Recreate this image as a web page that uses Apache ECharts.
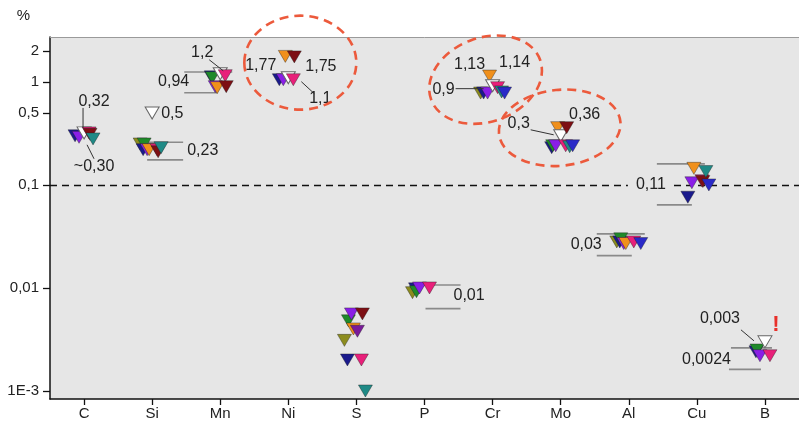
<!DOCTYPE html>
<html><head><meta charset="utf-8">
<script src="https://cdn.jsdelivr.net/npm/echarts@6/dist/echarts.min.js"></script>
<style>html,body{margin:0;padding:0;background:#fff}#c{width:799px;height:424px}</style>
</head><body><div id="c"></div>
<script>
// ---------- DATA ----------
const categories = ['C','Si','Mn','Ni','S','P','Cr','Mo','Al','Cu','B'];
const yTickValues = [0.001, 0.01, 0.1, 0.5, 1, 2];
const yTickLabels = ['1E-3', '0,01', '0,1', '0,5', '1', '2'];

const green   = [null, 0.25, 1.1,  null, 0.0048, 0.0092, null, 0.24,  0.03,  null,  0.0025];
const purple  = [0.29, 0.22, 0.9,  1.05, 0.0056, 0.01,   0.78, 0.24,  0.027, 0.105, 0.0022];
const navy    = [0.30, 0.22, 1.12, 1.05, 0.002,  0.0098, 0.78, 0.23,  0.028, 0.076, 0.0024];
const magenta = [0.32, 0.22, 1.15, 1.05, 0.002,  0.01,   0.88, 0.24,  0.028, 0.11,  0.0022];
const teal    = [0.28, 0.23, null, null, 0.001,  null,   0.8,  0.235, null,  0.135, null];
const orange  = [null, 0.22, 0.88, 1.77, 0.004,  null,   1.14, 0.36,  0.027, 0.145, null];
const darkred = [0.31, 0.21, 0.9,  1.75, 0.0056, null,   null, 0.36,  null,  0.108, null];
const olive   = [null, 0.25, null, null, 0.0031, 0.009,  0.78, null,  0.028, null,  null];
const violet  = [null, null, null, null, 0.0038, null,   null, null,  null,  null,  null];
const blue    = [null, null, null, null, null,   null,   0.78, 0.24,  0.027, 0.1,   null];
const white   = [0.32, 0.5,  1.2,  1.1,  null,   null,   0.92, 0.3,   null,  null,  0.003];

const rangeHigh = [null, 0.26,  1.25,  null, null, 0.0107, null, null, 0.0335, 0.16,  0.00262];
const rangeLow  = [null, 0.175, 0.785, null, null, 0.0063, null, null, 0.0206, 0.064, 0.00162];

const thresholdValue = 0.1;

const annotTexts  = ['0,32','~0,30','0,5','0,23','1,2','0,94','1,77','1,75','1,1','1,13','1,14','0,9','0,3','0,36','0,01','0,03','0,11','0,003','0,0024','!'];
const annotCats   = ['C','C','Si','Si','Mn','Mn','Ni','Ni','Ni','Cr','Cr','Cr','Mo','Mo','P','Al','Cu','B','B','B'];
const annotValues = [0.32,0.30,0.5,0.23,1.2,0.94,1.77,1.75,1.1,1.13,1.14,0.92,0.3,0.36,0.0095,0.028,0.11,0.003,0.0024,0.003];

const highlightCats   = ['Ni','Cr','Mo'];
const highlightValues = [1.1, 0.92, 0.3];

// ---------- LAYOUT / STYLE ----------
const seriesDefs = [
  {name:'olive',   data: olive,   color:'#8c8c1e', dx:-12},
  {name:'navy',    data: navy,    color:'#1a1a8c', dx:-9},
  {name:'green',   data: green,   color:'#1f8a2a', dx:-8},
  {name:'purple',  data: purple,  color:'#8a1ee6', dx:-5},
  {name:'orange',  data: orange,  color:'#f0901c', dx:-3},
  {name:'white',   data: white,   color:'#ffffff', dx:0, border:'#666'},
  {name:'violet',  data: violet,  color:'#7a1a9a', dx:1},
  {name:'magenta', data: magenta, color:'#e8207a', dx:5},
  {name:'darkred', data: darkred, color:'#7d0f14', dx:6},
  {name:'teal',    data: teal,    color:'#1f8a86', dx:9},
  {name:'blue',    data: blue,    color:'#2a2ac8', dx:12}
];

const annotLayout = [
  {dx:10, dy:-31, align:'center', lead:[-1,-25,-1,-5]},
  {dx:10, dy:31, align:'center', lead:[3,9,10,23]},
  {dx:9, dy:1, align:'left'},
  {dx:35, dy:3, align:'left'},
  {dx:-18, dy:-21, align:'center', lead:[-11,-14,3,-3]},
  {dx:-31, dy:-3, align:'right'},
  {dx:-12, dy:9, align:'right'},
  {dx:17, dy:10, align:'left'},
  {dx:32, dy:21, align:'center', lead:[13,4,26,16]},
  {dx:-23, dy:-12, align:'center'},
  {dx:22, dy:-13, align:'center'},
  {dx:-49, dy:4, align:'center', lead:[-37,3,-9,3]},
  {dx:-42, dy:-12, align:'center', lead:[-30,-6,-7,-1]},
  {dx:24, dy:-13, align:'center'},
  {dx:29, dy:5, align:'left'},
  {dx:-27, dy:3, align:'right'},
  {dx:-25, dy:4, align:'right', bg:true},
  {dx:-45, dy:-23, align:'center', lead:[-24,-12,-11,-1]},
  {dx:-34, dy:8, align:'right'},
  {dx:11, dy:-17, align:'center', color:'#e8302a', size:22, weight:'bold'}
];

const bracketLayout = {
  Si: {hi:[-15,31], lo:[-5,31]},
  Mn: {hi:[-36,12], lo:[-36,-3]},
  P:  {hi:[-14,36], lo:[1,36]},
  Al: {hi:[-32,16], lo:[-32,3]},
  Cu: {hi:[-40,8],  lo:[-40,-5]},
  B:  {hi:[-34,7],  lo:[-36,-4]}
};

const ellipseLayout = [
  {dx:12, dy:-15, rx:56, ry:47, rot:0},
  {dx:-7, dy:-6, rx:58, ry:42, rot:0.35},
  {dx:-1, dy:-8, rx:61, ry:38, rot:0.1}
];

const FONT = '"Liberation Sans", Arial, sans-serif';
const chart = echarts.init(document.getElementById('c'));

const scatterSeries = seriesDefs.map((s, k) => ({
  type: 'scatter',
  name: s.name,
  xAxisIndex: 0, yAxisIndex: 0,
  symbol: 'triangle',
  symbolRotate: 180,
  symbolSize: [14, 12],
  symbolOffset: [s.dx, 0],
  z: 3,
  itemStyle: {color: s.color, borderColor: s.border || '#222', borderWidth: s.border ? 1 : 0.4, opacity: 1},
  emphasis: {disabled: true},
  data: s.data.map(v => v == null ? '-' : v),
  markLine: k === 0 ? {
    silent: true, symbol: 'none', z: 1,
    label: {show: false},
    lineStyle: {color: '#111', type: [7, 5], width: 1.3},
    data: [{yAxis: thresholdValue}]
  } : undefined
}));

const bracketData = [];
rangeHigh.forEach((h, i) => { if (h != null) bracketData.push([i, h, rangeLow[i]]); });

const bracketSeries = {
  type: 'custom', xAxisIndex: 1, yAxisIndex: 0, z: 2, silent: true,
  data: bracketData,
  renderItem: (params, api) => {
    const i = api.value(0);
    const lay = bracketLayout[categories[i]];
    const ph = api.coord([i, api.value(1)]);
    const pl = api.coord([i, api.value(2)]);
    const st = {stroke: '#8a8a8a', lineWidth: 1.6};
    return {type: 'group', children: [
      {type: 'line', shape: {x1: ph[0] + lay.hi[0], y1: ph[1], x2: ph[0] + lay.hi[1], y2: ph[1]}, style: st},
      {type: 'line', shape: {x1: pl[0] + lay.lo[0], y1: pl[1], x2: pl[0] + lay.lo[1], y2: pl[1]}, style: st}
    ]};
  }
};

const annotSeries = {
  type: 'custom', xAxisIndex: 1, yAxisIndex: 0, z: 5, silent: true,
  data: annotTexts.map((t, i) => [categories.indexOf(annotCats[i]), annotValues[i], i]),
  renderItem: (params, api) => {
    const idx = api.value(2);
    const lay = annotLayout[idx];
    const p = api.coord([api.value(0), api.value(1)]);
    const children = [];
    if (lay.lead) {
      children.push({type: 'line', shape: {x1: p[0] + lay.lead[0], y1: p[1] + lay.lead[1], x2: p[0] + lay.lead[2], y2: p[1] + lay.lead[3]},
        style: {stroke: '#333', lineWidth: 1}});
    }
    children.push({type: 'text', x: p[0] + lay.dx, y: p[1] + lay.dy,
      style: {text: annotTexts[idx], fill: lay.color || '#222', fontSize: lay.size || 16, fontWeight: lay.weight || 'normal',
        fontFamily: FONT, align: lay.align, verticalAlign: 'middle',
        backgroundColor: lay.bg ? '#e6e6e6' : null, padding: lay.bg ? [1, 6, 1, 8] : 0}});
    return {type: 'group', children};
  }
};

const ellipseSeries = {
  type: 'custom', xAxisIndex: 1, yAxisIndex: 0, z: 6, silent: true,
  data: highlightCats.map((c, i) => [categories.indexOf(c), highlightValues[i], i]),
  renderItem: (params, api) => {
    const lay = ellipseLayout[api.value(2)];
    const p = api.coord([api.value(0), api.value(1)]);
    const cx = p[0] + lay.dx, cy = p[1] + lay.dy;
    return {type: 'ellipse', shape: {cx, cy, rx: lay.rx, ry: lay.ry},
      rotation: lay.rot, originX: cx, originY: cy,
      style: {fill: null, stroke: '#ec5a3c', lineWidth: 2.6, lineDash: [9, 6]}};
  }
};

chart.setOption({
  animation: false,
  backgroundColor: '#ffffff',
  textStyle: {fontFamily: FONT},
  grid: {left: 50, right: -4, top: 37, bottom: 25, show: true, backgroundColor: '#e6e6e6', borderWidth: 0},
  xAxis: [
    {type: 'category', data: categories, boundaryGap: true,
      axisLine: {show: true, lineStyle: {color: '#111', width: 1.5}},
      axisTick: {show: true, alignWithLabel: true, length: 6, lineStyle: {color: '#111', width: 1.3}},
      axisLabel: {color: '#222', fontSize: 15, fontFamily: FONT, margin: 7},
      splitLine: {show: false}},
    {type: 'value', min: -0.5, max: categories.length - 0.5, position: 'top',
      axisLine: {show: true, onZero: false, lineStyle: {color: '#9a9a9a', width: 1}},
      axisTick: {show: false}, axisLabel: {show: false}, splitLine: {show: false}}
  ],
  yAxis: [{
    type: 'log', logBase: 10, min: 0.000836, max: 2.73,
    name: '%', nameLocation: 'end', nameGap: 14,
    nameTextStyle: {color: '#222', fontSize: 15, fontFamily: FONT, align: 'right', padding: [0, 20, 0, 0]},
    axisLine: {show: true, onZero: false, lineStyle: {color: '#111', width: 1.5}},
    axisTick: {show: true, inside: false, length: 7, lineStyle: {color: '#111', width: 1.3}, customValues: yTickValues},
    axisLabel: {color: '#222', fontSize: 15, fontFamily: FONT, margin: 11, customValues: yTickValues,
      formatter: v => { const k = yTickValues.findIndex(t => Math.abs(t - v) / t < 1e-6); return k >= 0 ? yTickLabels[k] : ''; }},
    splitLine: {show: false}, minorTick: {show: false}
  }],
  series: [bracketSeries, ...scatterSeries, annotSeries, ellipseSeries]
});
</script></body></html>
